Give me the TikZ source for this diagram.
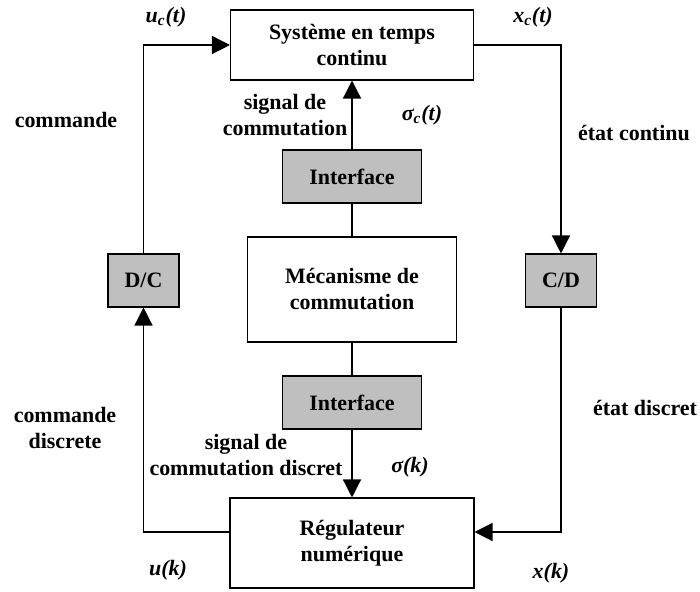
\documentclass[tikz,border=0pt]{standalone}
\usepackage{fontspec}
\setmainfont{Liberation Serif}
\usetikzlibrary{arrows.meta}

\begin{document}
\begin{tikzpicture}[
    txt/.style={font=\bfseries\fontsize{12.5}{14.8}\selectfont, align=center, inner sep=0pt},
    blk/.style={txt, draw, line width=0.6pt, minimum width=#1, minimum height=1.06cm},
    gblk/.style={blk=#1, fill=gray!50},
    sig/.style={txt, font=\bfseries\itshape\fontsize{12.5}{14.8}\selectfont},
    arr/.style={line width=0.75pt, -{Triangle[length=0.36cm,width=0.36cm]}},
    ln/.style={line width=0.75pt}
]
    \useasboundingbox (0,0) rectangle (14,11.84);
    % blocs
    \node[blk=4.86cm, minimum height=1.4cm] (sys) at (7.04,10.94) {Système en temps\\continu};
    \node[gblk=2.78cm] (ifc1) at (7.04,8.31) {Interface};
    \node[blk=4.18cm, minimum height=2.1cm] (mec) at (7.04,6.05) {Mécanisme de\\commutation};
    \node[gblk=2.78cm] (ifc2) at (7.04,3.79) {Interface};
    \node[blk=4.88cm, minimum height=1.8cm] (reg) at (7.04,0.98) {Régulateur\\numérique};
    \node[gblk=1.42cm] (dc) at (2.87,6.23) {D/C};
    \node[gblk=1.42cm] (cd) at (11.22,6.23) {C/D};
    % liaisons
    \draw[arr] ([yshift=0.22cm]reg.west) -| (dc);
    \draw[arr] (dc) |- (sys);
    \draw[arr] (sys) -| (cd);
    \draw[arr] (cd) |- ([yshift=0.22cm]reg.east);
    \draw[arr] (ifc1) -- (sys);
    \draw[ln] (mec) -- (ifc1);
    \draw[ln] (mec) -- (ifc2);
    \draw[arr] (ifc2) -- (reg);
    % etiquettes
    \node[sig] (uc) at (3.32,11.5) {u\textsubscript{c}(t)};
    \node[sig] (xc) at (10.66,11.5) {x\textsubscript{c}(t)};
    \node[txt] (cmd) at (1.32,9.44) {commande};
    \node[txt] (sc) at (5.7,9.54) {signal de\\commutation};
    \node[sig] (sgc) at (8.44,9.54) {σ\textsubscript{c}(t)};
    \node[txt] (ec) at (12.68,9.18) {état continu};
    \node[txt] (cmdd) at (1.3,3.28) {commande\\discrete};
    \node[txt] (sd) at (4.92,2.74) {signal de\\commutation discret};
    \node[sig] (sk) at (8.2,2.5) {σ(k)};
    \node[txt] (ed) at (12.9,3.68) {état discret};
    \node[sig] (uk) at (3.36,0.44) {u(k)};
    \node[sig] (xk) at (11.02,0.38) {x(k)};
\end{tikzpicture}
\end{document}
